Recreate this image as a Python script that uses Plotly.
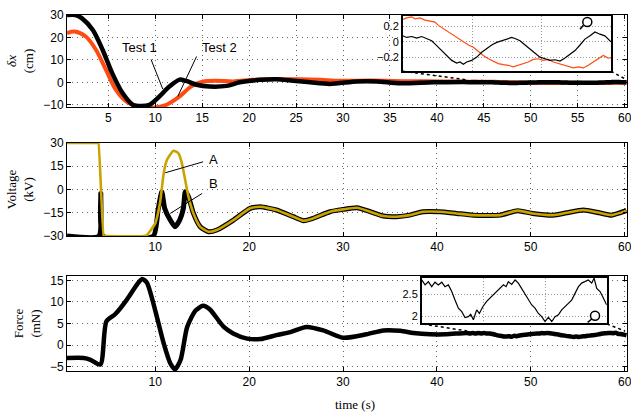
import plotly.graph_objects as go

# ---------------- data ----------------
# Top panel: displacement (cm)
t_test1 = [0.6, 1.5, 2.2, 3.35, 4.4, 5.4, 6.5, 7.6, 8.5, 9.4, 10.45, 11.5, 12.6, 13.3, 14.4,
           15.8, 17.6, 19.0, 21.2, 22.9, 24.7, 26.5, 28.6, 31.5, 33.6, 36.1, 39.6, 42.8]
v_test1 = [30, 30, 28.5, 23.3, 14.4, 4.2, -4.7, -10.0, -10.6, -10.0, -6.3, -1.9, 1.2, 0.6, -1.1,
           -1.9, -1.6, 0.0, 1.1, 1.4, 0.7, 0.0, -0.7, 0.4, 0.4, -0.4, 0.0, 0.1]
t_test2 = [0.6, 1.4, 2.6, 3.7, 4.75, 5.8, 6.9, 8.3, 9.7, 11.2, 12.6, 13.8, 15.1, 16.5, 18.3,
           20.4, 22.9, 25.4, 27.6, 29.7, 33.0, 37.0, 41.0]
v_test2 = [21.9, 22.6, 20.4, 14.4, 5.6, -3.3, -8.5, -11.0, -11.3, -10.0, -6.3, -1.9, 0.4, 0.7, 0.4,
           1.1, 1.5, 1.4, 1.1, 0.7, 0.8, 0.5, 0.35]

# Top inset (zoom of 43.4 .. 60.2 s)
ti_test1 = [43.4, 43.72, 44.13, 44.53, 44.93, 45.34, 45.74, 46.14, 46.55, 46.95,
            47.35, 47.75, 48.02, 48.29, 48.56, 48.96, 49.37, 49.77, 50.17, 50.58,
            50.98, 51.38, 51.79, 52.19, 52.46, 52.86, 53.27, 53.67, 54.07, 54.47,
            54.88, 55.28, 55.68, 56.09, 56.49, 56.89, 57.3, 57.7, 58.1, 58.51,
            58.91, 59.31, 59.71, 60.2]
vi_test1 = [0.076, 0.055, 0.067, 0.046, 0.067, 0.042, 0.013, -0.05, -0.114, -0.177,
            -0.24, -0.274, -0.261, -0.29, -0.261, -0.24, -0.198, -0.135, -0.084, -0.042,
            -0.008, 0.013, 0.034, 0.055, 0.042, 0.013, -0.042, -0.093, -0.156, -0.198,
            -0.219, -0.24, -0.232, -0.248, -0.21, -0.168, -0.114, -0.042, 0.034, 0.076,
            0.126, 0.097, 0.076, 0.0]
ti_test2 = [43.4, 43.72, 44.13, 44.39, 44.8, 45.2, 45.6, 46.0, 46.28, 46.68,
            47.08, 47.49, 47.89, 48.29, 48.7, 49.1, 49.5, 49.9, 50.31, 50.71,
            51.11, 51.52, 51.92, 52.32, 52.73, 53.13, 53.53, 53.94, 54.34, 54.74,
            55.15, 55.55, 55.95, 56.36, 56.76, 57.16, 57.57, 57.97, 58.37, 58.78,
            59.18, 59.58, 59.98, 60.2]
vi_test2 = [0.286, 0.307, 0.32, 0.295, 0.307, 0.278, 0.265, 0.253, 0.21, 0.168,
            0.126, 0.084, 0.042, -0.008, -0.042, -0.072, -0.126, -0.177, -0.219, -0.253,
            -0.282, -0.295, -0.303, -0.324, -0.303, -0.282, -0.261, -0.227, -0.219, -0.24,
            -0.227, -0.261, -0.282, -0.295, -0.324, -0.337, -0.324, -0.337, -0.303, -0.261,
            -0.219, -0.177, -0.21, -0.206]

# Middle panel: voltage (kV)
t_A = [0.6, 3.9, 3.95, 4.5, 4.55, 8.8, 9.1, 10.0, 10.5, 10.9, 11.24, 11.95, 12.48, 12.84, 13.19,
       13.54, 14.07, 14.79, 15.67, 16.56, 18.33, 20.1, 21.2, 22.9, 24.7, 25.8, 26.8, 28.6, 30.0,
       31.5, 32.9, 34.3, 35.7, 37.1, 38.5, 40.3, 42.1, 43.9, 46.7, 48.6, 50.2, 52.4, 53.8, 55.6,
       57.3, 58.6, 60.2]
v_A = [30, 30, 30, -30, -30, -30, -29.4, -21.8, -8.9, 10.4, 19.0, 25.0, 23.3, 16.9, 6.1,
       -4.6, -15.4, -24.0, -27.2, -26.1, -19.7, -12.1, -11.1, -13.2, -17.5, -20.1, -18.6, -14.3, -12.8,
       -11.7, -14.3, -17.1, -17.5, -16.5, -14.3, -14.3, -15.4, -16.5, -16.5, -13.6, -15.4, -16.5, -15.0, -13.2,
       -15.0, -16.5, -13.6]
t_B_head = [0.6, 4.0, 4.2, 4.4, 9.8, 10.3, 10.7, 11.0, 11.6, 12.1, 12.6, 13.0, 13.2]
v_B_head = [-30, -30, -2.5, -30, -30, -13.2, -1.4, -12.0, -19.7, -24.0, -19.7, -12.0, -1.4]

# Bottom panel: force (mN)
t_force = [0.6, 2.4, 3.1, 4.15, 4.8, 5.75, 7.0, 8.05, 8.6, 9.1, 10.0, 10.9, 11.6, 12.1, 12.7,
           13.4, 14.3, 15.1, 15.8, 17.3, 18.3, 19.8, 21.2, 22.9, 24.4, 26.1, 27.9, 30.0, 32.5,
           34.3, 36.1, 37.5, 39.3, 41.0]
v_force = [-3.0, -3.0, -3.4, -4.5, 5.5, 7.2, 10.6, 14.0, 15.3, 14.5, 8.0, 0.4, -4.2, -5.6, -3.4,
           4.2, 8.0, 9.1, 8.3, 4.2, 2.7, 1.5, 1.4, 2.3, 3.0, 4.2, 3.4, 1.7, 2.5,
           3.4, 3.3, 2.8, 2.5, 2.5]
# Bottom inset (zoom of 43.2 .. 60.2 s)
ti_force = [43.2, 43.51, 43.81, 44.12, 44.42, 44.73, 45.04, 45.34, 45.65, 45.96,
            46.26, 46.57, 46.88, 47.18, 47.49, 47.70, 47.95, 48.25, 48.50, 48.81,
            49.17, 49.48, 49.79, 50.09, 50.40, 50.71, 50.95, 51.16, 51.47, 51.78,
            52.08, 52.39, 52.69, 53.0, 53.31, 53.61, 53.92, 54.23, 54.53, 54.84,
            55.15, 55.45, 55.76, 56.06, 56.37, 56.68, 56.98, 57.29, 57.6, 57.9,
            58.21, 58.51, 58.82, 59.04, 59.28, 59.59, 59.9, 60.2]
vi_force = [2.82, 2.71, 2.78, 2.67, 2.77, 2.71, 2.77, 2.67, 2.71, 2.56,
            2.37, 2.19, 2.11, 1.98, 2.0, 2.05, 1.93, 2.15, 2.07, 2.22,
            2.34, 2.41, 2.49, 2.56, 2.63, 2.71, 2.67, 2.78, 2.72, 2.82,
            2.75, 2.63, 2.52, 2.41, 2.26, 2.19, 2.07, 2.0, 1.89, 1.98,
            1.89, 2.0, 2.04, 2.15, 2.22, 2.3, 2.37, 2.52, 2.67, 2.75,
            2.78, 2.82, 2.75, 2.86, 2.63, 2.56, 2.41, 2.26]

top_ticks = [5, 10, 15, 20, 25, 30, 35, 40, 45, 50, 55, 60]
mid_ticks = [10, 20, 30, 40, 50, 60]
dx_ticks = [-10, 0, 10, 20, 30]
volt_ticks = [-30, -15, 0, 15, 30]
force_ticks = [-5, 0, 5, 10, 15]

# ---------------- styling ----------------
ORANGE = "#FF4A12"
GOLD = "#C9A300"
SANS = "Liberation Sans, Arial, sans-serif"
SERIF = "Liberation Serif, Times New Roman, serif"
XR = [0.6, 60.25]

fig = go.Figure()

# top panel
fig.add_trace(go.Scatter(x=t_test2 + ti_test2, y=v_test2 + vi_test2, mode="lines",
                         line=dict(color=ORANGE, width=4, shape="spline", smoothing=0.8),
                         xaxis="x", yaxis="y", showlegend=False))
fig.add_trace(go.Scatter(x=t_test1 + ti_test1, y=v_test1 + vi_test1, mode="lines",
                         line=dict(color="black", width=4.5, shape="spline", smoothing=0.8),
                         xaxis="x", yaxis="y", showlegend=False))
# middle panel
t_B = t_B_head + [t for t in t_A if t > 13.3]
v_B = v_B_head + [v for t, v in zip(t_A, v_A) if t > 13.3]
fig.add_trace(go.Scatter(x=t_B, y=v_B, mode="lines",
                         line=dict(color="black", width=5, shape="spline", smoothing=0.5),
                         xaxis="x2", yaxis="y2", showlegend=False))
fig.add_trace(go.Scatter(x=t_A, y=v_A, mode="lines",
                         line=dict(color=GOLD, width=2.6, shape="spline", smoothing=0.5),
                         xaxis="x2", yaxis="y2", showlegend=False))
# bottom panel
fig.add_trace(go.Scatter(x=t_force + ti_force, y=v_force + vi_force, mode="lines",
                         line=dict(color="black", width=4.5, shape="spline", smoothing=0.7),
                         xaxis="x3", yaxis="y3", showlegend=False))
# insets
fig.add_trace(go.Scatter(x=ti_test2, y=vi_test2, mode="lines",
                         line=dict(color=ORANGE, width=1.2), xaxis="x4", yaxis="y4", showlegend=False))
fig.add_trace(go.Scatter(x=ti_test1, y=vi_test1, mode="lines",
                         line=dict(color="black", width=1.2), xaxis="x4", yaxis="y4", showlegend=False))
fig.add_trace(go.Scatter(x=ti_force, y=vi_force, mode="lines",
                         line=dict(color="black", width=1.2), xaxis="x5", yaxis="y5", showlegend=False))

grid = dict(showgrid=True, gridcolor="rgba(0,0,0,0.6)", griddash="1px,4px", gridwidth=1,
            zeroline=False, showline=True, linecolor="black", linewidth=1, mirror="ticks",
            ticks="inside", ticklen=4, tickcolor="black", automargin=False,
            ticklabeloverflow="allow",
            tickfont=dict(family=SANS, size=12, color="black"))
igrid = dict(showgrid=True, gridcolor="rgba(0,0,0,0.4)", griddash="1px,2px", gridwidth=1,
             zeroline=False, showline=True, linecolor="black", linewidth=1.5, mirror=True,
             ticks="", automargin=False, tickfont=dict(family=SANS, size=11, color="black"))

D_TOP = [0.7416, 1.0]
D_MID = [0.379, 0.6404]
D_BOT = [0.0, 0.2669]
ttl = dict(family=SERIF, size=13, color="black")

fig.update_layout(
    width=631, height=414,
    margin=dict(l=67, r=4, t=15, b=43),
    paper_bgcolor="white", plot_bgcolor="white",
    xaxis=dict(domain=[0, 1], anchor="y", range=XR, tickvals=top_ticks, **grid),
    yaxis=dict(domain=D_TOP, anchor="x", range=[-11, 30], tickvals=dx_ticks,
               title=dict(text="<i>δx</i><br>(cm)", font=ttl, standoff=6), **grid),
    xaxis2=dict(domain=[0, 1], anchor="y2", range=XR, tickvals=mid_ticks, **grid),
    yaxis2=dict(domain=D_MID, anchor="x2", range=[-30, 30], tickvals=volt_ticks,
                title=dict(text="Voltage<br>(kV)", font=ttl, standoff=6), **grid),
    xaxis3=dict(domain=[0, 1], anchor="y3", range=XR, tickvals=mid_ticks, **grid),
    yaxis3=dict(domain=D_BOT, anchor="x3", range=[-6, 16], tickvals=force_ticks,
                title=dict(text="Force<br>(mN)", font=ttl, standoff=6), **grid),
    xaxis4=dict(domain=[0.5995, 0.9714], anchor="y4", range=[43.4, 60.2],
                tickvals=[49.0, 54.6], showticklabels=False, **igrid),
    yaxis4=dict(domain=[0.8419, 0.997], anchor="x4", range=[-0.38, 0.33],
                tickvals=[-0.2, 0, 0.2], ticktext=["\u22120.2", "0", "0.2"], **igrid),
    xaxis5=dict(domain=[0.6334, 0.9638], anchor="y5", range=[43.2, 60.2],
                tickvals=[48.87, 54.53], showticklabels=False, **igrid),
    yaxis5=dict(domain=[0.134, 0.262], anchor="x5", range=[1.85, 2.87],
                tickvals=[2, 2.5], ticktext=["2", "2.5"], **igrid),
)

# x-axis title
fig.add_annotation(x=0.514, y=-0.0927, xref="paper", yref="paper", text="time (s)",
                   showarrow=False, font=ttl, xanchor="center", yanchor="middle")

# annotation labels and pointer lines
lab = dict(family=SANS, size=13, color="black")
fig.add_annotation(x=8.3, y=15.3, xref="x", yref="y", text="Test 1", showarrow=False, font=lab)
fig.add_annotation(x=16.8, y=15.3, xref="x", yref="y", text="Test 2", showarrow=False, font=lab)
fig.add_annotation(x=16.2, y=19.5, xref="x2", yref="y2", text="A", showarrow=False, font=lab)
fig.add_annotation(x=16.2, y=4.0, xref="x2", yref="y2", text="B", showarrow=False, font=lab)
ln = dict(color="black", width=1)
fig.add_shape(type="line", xref="x", yref="y", x0=9.55, y0=10.2, x1=10.8, y1=-3.0, line=ln)
fig.add_shape(type="line", xref="x", yref="y", x0=14.4, y0=11.5, x1=12.4, y1=-6.3, line=ln)
fig.add_shape(type="line", xref="x2", yref="y2", x0=15.1, y0=17.9, x1=11.06, y1=10.8, line=ln)
fig.add_shape(type="line", xref="x2", yref="y2", x0=15.0, y0=-2.5, x1=11.6, y1=-15.4, line=ln)

# dotted connectors from insets to zoomed region
dl = dict(color="black", width=1.5, dash="dot")
fig.add_shape(type="line", xref="paper", yref="paper", x0=0.600, y0=0.8420, x1=0.7161, y1=0.8174, line=dl)
fig.add_shape(type="line", xref="paper", yref="paper", x0=0.9714, y0=0.8420, x1=1.0, y1=0.8174, line=dl)
fig.add_shape(type="line", xref="paper", yref="paper", x0=0.6357, y0=0.1320, x1=0.7143, y1=0.1124, line=dl)
fig.add_shape(type="line", xref="paper", yref="paper", x0=0.9643, y0=0.1320, x1=0.9964, y1=0.1124, line=dl)

# magnifier icons
ml = dict(color="black", width=1.5)
for cx, cy, hx0, hy0, hx1, hy1 in [(0.9291, 0.9803, 0.9220, 0.9711, 0.9161, 0.9598),
                                   (0.9429, 0.1553, 0.9370, 0.1461, 0.9298, 0.1368)]:
    fig.add_shape(type="circle", xref="paper", yref="paper", xsizemode="pixel", ysizemode="pixel",
                  xanchor=cx, yanchor=cy, x0=-4.5, x1=4.5, y0=-4.5, y1=4.5,
                  line=ml, fillcolor="white")
    fig.add_shape(type="line", xref="paper", yref="paper", x0=hx0, y0=hy0, x1=hx1, y1=hy1, line=ml)

fig.write_html("out.html", config={"displayModeBar": False},
               post_script="document.body.style.margin='0';document.body.style.padding='0';"
                           "document.body.style.overflow='hidden';")
